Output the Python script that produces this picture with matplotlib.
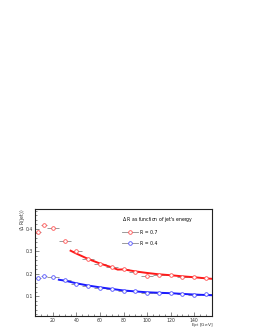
import matplotlib
matplotlib.use('Agg')
import matplotlib.pyplot as plt
from matplotlib.ticker import MultipleLocator
from matplotlib.lines import Line2D

# jet energy bins
e_jet = [7.5, 12.5, 20, 30, 40, 50, 60, 70, 80, 90, 100, 110, 120, 130, 140, 150]
e_err = [2.5, 2.5, 5, 5, 5, 5, 5, 5, 5, 5, 5, 5, 5, 5, 5, 5]

# <dR> for two cone sizes
dr_07 = [0.388, 0.418, 0.404, 0.347, 0.300, 0.268, 0.244, 0.232, 0.222, 0.210,
         0.192, 0.195, 0.195, 0.188, 0.185, 0.180]
dr_04 = [0.183, 0.189, 0.185, 0.171, 0.154, 0.146, 0.138, 0.133, 0.122, 0.124,
         0.115, 0.115, 0.116, 0.110, 0.106, 0.109]

# fitted curves
fit07_x = [35, 40, 50, 60, 70, 75, 80, 90, 100, 110, 120, 130, 140, 150, 155]
fit07_y = [0.303, 0.290, 0.266, 0.246, 0.229, 0.219, 0.220, 0.211, 0.204, 0.198,
           0.194, 0.189, 0.185, 0.180, 0.178]
fit04_x = [25, 30, 40, 50, 60, 70, 80, 90, 100, 110, 120, 130, 140, 150, 155]
fit04_y = [0.174, 0.170, 0.158, 0.148, 0.140, 0.133, 0.126, 0.122, 0.118, 0.116,
           0.114, 0.111, 0.108, 0.106, 0.105]

fig = plt.figure(figsize=(2.55, 3.3), dpi=100)
ax = fig.add_axes([0.137, 0.042, 0.694, 0.325])

grey = '#8a8a8a'
ax.errorbar(e_jet, dr_07, xerr=e_err, fmt='none', ecolor=grey, elinewidth=0.6, zorder=2)
ax.errorbar(e_jet, dr_04, xerr=e_err, fmt='none', ecolor=grey, elinewidth=0.6, zorder=2)
ax.plot(fit07_x, fit07_y, color='#ff1a1a', lw=1.4, zorder=3)
ax.plot(fit04_x, fit04_y, color='#1a1aff', lw=1.4, zorder=3)
ax.plot(e_jet, dr_07, 'o', ms=2.6, mfc='white', mec='#ff5050', mew=0.6, zorder=4)
ax.plot(e_jet, dr_04, 'o', ms=2.6, mfc='white', mec='#5050ff', mew=0.6, zorder=4)

ax.set_xlim(4.7, 155)
ax.set_ylim(0.012, 0.489)
ax.xaxis.set_major_locator(MultipleLocator(20))
ax.xaxis.set_minor_locator(MultipleLocator(5))
ax.yaxis.set_major_locator(MultipleLocator(0.1))
ax.yaxis.set_minor_locator(MultipleLocator(0.02))
ax.tick_params(which='both', direction='in', labelsize=3.3, pad=1.2, width=0.4,
               colors='#333333')
ax.tick_params(which='major', length=3)
ax.tick_params(which='minor', length=1.5)
for s in ax.spines.values():
    s.set_linewidth(0.8)
    s.set_color('#222222')

ax.text(1.01, -0.05, r'E$_{\mathrm{jet}}$ [GeV]', transform=ax.transAxes,
        ha='right', va='top', fontsize=3.2, color='#333333')
ax.text(-0.07, 1.0, r'$\langle\Delta$ R(jet)$\rangle$', transform=ax.transAxes,
        ha='center', va='top', rotation=90, fontsize=3.3, color='#333333')

handles = [Line2D([], [], color=grey, lw=0.6, marker='o', ms=2.6, mfc='white',
                  mec='#ff5050', mew=0.6),
           Line2D([], [], color=grey, lw=0.6, marker='o', ms=2.6, mfc='white',
                  mec='#5050ff', mew=0.6)]
leg = ax.legend(handles, ['R = 0.7', 'R = 0.4'], title="$\\Delta$ R as function of jet's energy",
                loc='upper left', bbox_to_anchor=(0.48, 0.96), frameon=False,
                fontsize=3.3, title_fontsize=3.3, handlelength=3.5, labelspacing=1.3,
                handletextpad=0.5, borderaxespad=0)
leg._legend_box.align = 'left'

fig.savefig('out.png', dpi=100)
